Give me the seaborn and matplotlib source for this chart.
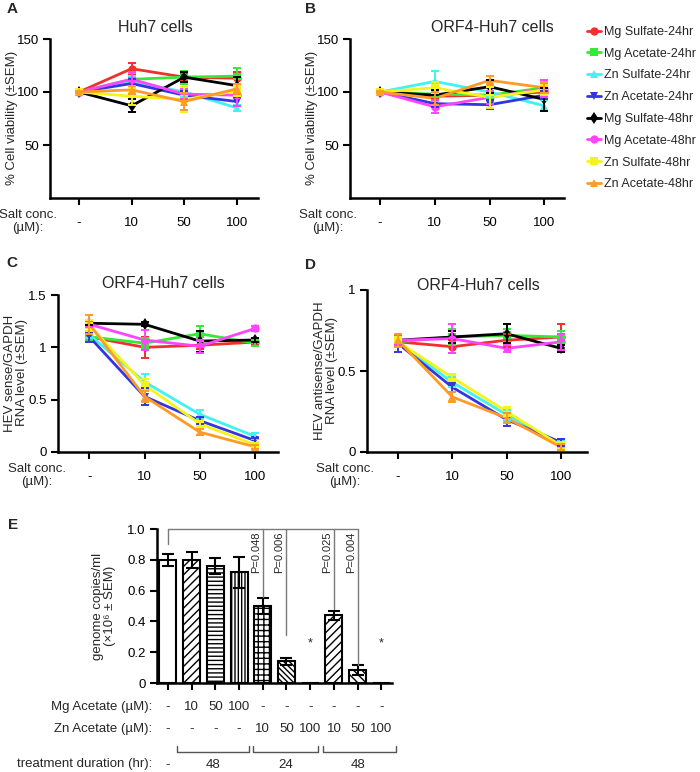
import numpy as np
import pandas as pd
import matplotlib
matplotlib.use("Agg")
import matplotlib.pyplot as plt
import seaborn as sns
from matplotlib.lines import Line2D
from matplotlib import font_manager

# ---- data ----
series = ["Mg Sulfate-24hr", "Mg Acetate-24hr", "Zn Sulfate-24hr", "Zn Acetate-24hr",
          "Mg Sulfate-48hr", "Mg Acetate-48hr", "Zn Sulfate-48hr", "Zn Acetate-48hr"]
conc_labels = ["-", "10", "50", "100"]

# panel A: Huh7 viability
a_mean = {
    "Mg Sulfate-24hr": [100, 122, 114, 113],
    "Mg Acetate-24hr": [100, 112, 114, 115],
    "Zn Sulfate-24hr": [100, 110, 100, 85],
    "Zn Acetate-24hr": [100, 108, 97, 91],
    "Mg Sulfate-48hr": [100, 87, 114, 106],
    "Mg Acetate-48hr": [100, 112, 98, 97],
    "Zn Sulfate-48hr": [100, 96, 93, 101],
    "Zn Acetate-48hr": [100, 102, 91, 103],
}
a_sem = {
    "Mg Sulfate-24hr": [1, 5, 4, 6],
    "Mg Acetate-24hr": [1, 6, 6, 8],
    "Zn Sulfate-24hr": [1, 5, 5, 3],
    "Zn Acetate-24hr": [1, 4, 4, 4],
    "Mg Sulfate-48hr": [1, 6, 5, 8],
    "Mg Acetate-48hr": [1, 7, 5, 10],
    "Zn Sulfate-48hr": [1, 8, 12, 5],
    "Zn Acetate-48hr": [1, 4, 8, 5],
}
# panel B: ORF4-Huh7 viability
b_mean = {
    "Mg Sulfate-24hr": [100, 96, 97, 100],
    "Mg Acetate-24hr": [100, 98, 97, 104],
    "Zn Sulfate-24hr": [100, 110, 100, 87],
    "Zn Acetate-24hr": [100, 89, 88, 97],
    "Mg Sulfate-48hr": [100, 97, 105, 93],
    "Mg Acetate-48hr": [100, 86, 95, 103],
    "Zn Sulfate-48hr": [100, 104, 95, 102],
    "Zn Acetate-48hr": [100, 94, 111, 104],
}
b_sem = {
    "Mg Sulfate-24hr": [1, 3, 3, 4],
    "Mg Acetate-24hr": [1, 3, 4, 4],
    "Zn Sulfate-24hr": [1, 10, 5, 5],
    "Zn Acetate-24hr": [1, 3, 4, 4],
    "Mg Sulfate-48hr": [1, 5, 6, 11],
    "Mg Acetate-48hr": [1, 6, 6, 8],
    "Zn Sulfate-48hr": [1, 5, 10, 5],
    "Zn Acetate-48hr": [1, 6, 4, 5],
}
# panel C: HEV sense RNA
c_mean = {
    "Mg Sulfate-24hr": [1.10, 1.00, 1.02, 1.05],
    "Mg Acetate-24hr": [1.10, 1.04, 1.13, 1.04],
    "Zn Sulfate-24hr": [1.12, 0.67, 0.36, 0.15],
    "Zn Acetate-24hr": [1.10, 0.53, 0.30, 0.11],
    "Mg Sulfate-48hr": [1.23, 1.22, 1.06, 1.07],
    "Mg Acetate-48hr": [1.22, 1.07, 1.01, 1.18],
    "Zn Sulfate-48hr": [1.21, 0.64, 0.27, 0.07],
    "Zn Acetate-48hr": [1.22, 0.53, 0.19, 0.05],
}
c_sem = {
    "Mg Sulfate-24hr": [0.03, 0.10, 0.04, 0.03],
    "Mg Acetate-24hr": [0.03, 0.05, 0.07, 0.03],
    "Zn Sulfate-24hr": [0.03, 0.08, 0.04, 0.03],
    "Zn Acetate-24hr": [0.05, 0.08, 0.03, 0.02],
    "Mg Sulfate-48hr": [0.02, 0.02, 0.10, 0.02],
    "Mg Acetate-48hr": [0.03, 0.10, 0.06, 0.02],
    "Zn Sulfate-48hr": [0.05, 0.06, 0.03, 0.02],
    "Zn Acetate-48hr": [0.09, 0.05, 0.03, 0.02],
}
# panel D: HEV antisense RNA
d_mean = {
    "Mg Sulfate-24hr": [0.68, 0.65, 0.69, 0.71],
    "Mg Acetate-24hr": [0.68, 0.71, 0.72, 0.71],
    "Zn Sulfate-24hr": [0.68, 0.43, 0.23, 0.05],
    "Zn Acetate-24hr": [0.67, 0.40, 0.20, 0.06],
    "Mg Sulfate-48hr": [0.69, 0.71, 0.73, 0.64],
    "Mg Acetate-48hr": [0.69, 0.70, 0.64, 0.68],
    "Zn Sulfate-48hr": [0.68, 0.46, 0.25, 0.04],
    "Zn Acetate-48hr": [0.69, 0.34, 0.21, 0.03],
}
d_sem = {
    "Mg Sulfate-24hr": [0.03, 0.04, 0.04, 0.08],
    "Mg Acetate-24hr": [0.03, 0.05, 0.04, 0.04],
    "Zn Sulfate-24hr": [0.03, 0.03, 0.03, 0.02],
    "Zn Acetate-24hr": [0.05, 0.03, 0.04, 0.02],
    "Mg Sulfate-48hr": [0.03, 0.04, 0.06, 0.02],
    "Mg Acetate-48hr": [0.03, 0.09, 0.02, 0.05],
    "Zn Sulfate-48hr": [0.03, 0.02, 0.03, 0.02],
    "Zn Acetate-48hr": [0.04, 0.03, 0.03, 0.02],
}
# panel E: genome copies
e_mean = [0.80, 0.80, 0.76, 0.72, 0.50, 0.14, 0.0, 0.44, 0.085, 0.0]
e_sem = [0.04, 0.05, 0.05, 0.10, 0.05, 0.02, 0.0, 0.03, 0.03, 0.0]
mg_row = ["-", "10", "50", "100", "-", "-", "-", "-", "-", "-"]
zn_row = ["-", "-", "-", "-", "10", "50", "100", "10", "50", "100"]
duration_labels = ["-", "48", "24", "48"]
p_labels = ["P=0.048", "P=0.006", "P=0.025", "P=0.004"]
p_bars = [4, 5, 7, 8]
p_line_ends = [0.56, 0.31, 0.48, 0.12]
star_bars = [6, 9]

# ---- style ----
colors = dict(zip(series, ["#f0302c", "#38e838", "#40f2f0", "#3535e0",
                           "#000000", "#ff44ff", "#f4f418", "#ff9a28"]))
markers = dict(zip(series, ["o", "s", "^", "v", "d", "o", "s", "^"]))
hatches = ["", "////", "----", "|||||", "+++", r"\\\\\\", "", "////", r"\\\\", ""]

sns.set_theme(style="ticks")
plt.rcParams["font.family"] = ["Liberation Sans", "DejaVu Sans"]
plt.rcParams["hatch.linewidth"] = 1.0
font_names = {f.name for f in font_manager.fontManager.ttflist}
if "Liberation Sans Narrow" in font_names:
    legend_prop = {"family": ["Liberation Sans Narrow", "DejaVu Sans"], "size": 11.5}
else:
    legend_prop = {"family": ["Liberation Sans", "DejaVu Sans"], "size": 9}

W, H = 700, 772
fig = plt.figure(figsize=(W / 100, H / 100), dpi=100)


def rect(l, t, r, b):
    return [l / W, 1 - b / H, (r - l) / W, (b - t) / H]


def ftext(x, y, s, **kw):
    kw.setdefault("fontsize", 9.5)
    kw.setdefault("ha", "center")
    kw.setdefault("va", "center")
    fig.text(x / W, 1 - y / H, s, **kw)


def style_axis(ax):
    sns.despine(ax=ax)
    for sp in ["left", "bottom"]:
        ax.spines[sp].set_linewidth(1.8)
        ax.spines[sp].set_color("black")
    ax.tick_params(direction="out", length=5, width=1.5, colors="black",
                   labelsize=9.5, pad=3)
    ax.set_xlabel("")
    ax.set_ylabel("")


def line_panel(box, means, sems, ylim, yticks, yticklabels, xlim):
    ax = fig.add_axes(rect(*box))
    rows = []
    for s in series:
        for xi, v in enumerate(means[s]):
            rows.append((xi, v, s))
    df = pd.DataFrame(rows, columns=["x", "value", "series"])
    sns.lineplot(data=df, x="x", y="value", hue="series", style="series",
                 hue_order=series, style_order=series, palette=colors,
                 markers=markers, dashes=False, lw=2, markersize=6,
                 markeredgewidth=0, legend=False, errorbar=None, ax=ax)
    for s in series:
        ax.errorbar(range(4), means[s], yerr=sems[s], fmt="none",
                    ecolor=colors[s], elinewidth=1.4, capsize=3, capthick=1.4)
    ax.set_xlim(*xlim)
    ax.set_ylim(*ylim)
    ax.set_yticks(yticks)
    ax.set_yticklabels(yticklabels)
    ax.set_xticks(range(4))
    ax.set_xticklabels(conc_labels)
    style_axis(ax)
    ax.tick_params(axis="x", pad=9)
    return ax


# panel A
line_panel((50, 39, 258, 198), a_mean, a_sem, (0, 150), [50, 100, 150],
           ["50", "100", "150"], (-0.55, 3.4))
# panel B
line_panel((350, 39, 564, 198), b_mean, b_sem, (0, 150), [50, 100, 150],
           ["50", "100", "150"], (-0.55, 3.36))
# panel C
line_panel((58, 295, 278, 452), c_mean, c_sem, (0, 1.5), [0, 0.5, 1, 1.5],
           ["0", "0.5", "1", "1.5"], (-0.57, 3.42))
# panel D
line_panel((367, 290, 587, 452), d_mean, d_sem, (0, 1), [0, 0.5, 1],
           ["0", "0.5", "1"], (-0.57, 3.48))

# legend
handles = [Line2D([], [], color=colors[s], marker=markers[s], lw=2, ms=6, mew=0)
           for s in series]
fig.legend(handles, series, loc="upper left", bbox_to_anchor=(587 / W, 1 - 26 / H),
           frameon=False, handlelength=1.1, handletextpad=0.3, labelspacing=0.78,
           borderpad=0, borderaxespad=0, prop=legend_prop)

# labels for line panels
ftext(12, 9, "A", fontsize=11, fontweight="bold")
ftext(310, 9, "B", fontsize=11, fontweight="bold")
ftext(12, 263, "C", fontsize=11, fontweight="bold")
ftext(310, 265, "D", fontsize=11, fontweight="bold")
ftext(155, 28, "Huh7 cells", fontsize=11.5)
ftext(492, 28, "ORF4-Huh7 cells", fontsize=11.5)
ftext(163, 283, "ORF4-Huh7 cells", fontsize=11.5)
ftext(478, 285, "ORF4-Huh7 cells", fontsize=11.5)
ftext(12, 118, "% Cell viability (±SEM)", rotation=90)
ftext(312, 118, "% Cell viability (±SEM)", rotation=90)
ftext(16, 373, "HEV sense/GAPDH\nRNA level (±SEM)", rotation=90, linespacing=1.1)
ftext(326, 371, "HEV antisense/GAPDH\nRNA level (±SEM)", rotation=90, linespacing=1.1)
for cx, axis_y in [(28, 198), (328, 198), (37, 452), (345, 452)]:
    ftext(cx, axis_y + 17, "Salt conc.")
    ftext(cx, axis_y + 30, "(µM):")

# panel E
ax = fig.add_axes(rect(157, 529, 392, 683))
dfe = pd.DataFrame({"cond": range(10), "mean": e_mean})
sns.barplot(data=dfe, x="cond", y="mean", color="white", edgecolor="black",
            linewidth=1.5, width=0.72, errorbar=None, saturation=1, ax=ax)
for p, h in zip(ax.patches, hatches):
    p.set_hatch(h)
    p.set_facecolor("white")
keep = [i for i in range(10) if e_sem[i] > 0]
ax.errorbar(keep, [e_mean[i] for i in keep], yerr=[e_sem[i] for i in keep],
            fmt="none", ecolor="black", elinewidth=1.5, capsize=4, capthick=1.5)
ax.set_xlim(-0.46, 9.45)
ax.set_ylim(0, 1.0)
ax.set_yticks([0, 0.2, 0.4, 0.6, 0.8, 1.0])
ax.set_yticklabels(["0", "0.2", "0.4", "0.6", "0.8", "1.0"])
ax.set_xticks(range(10))
ax.set_xticklabels([""] * 10)
style_axis(ax)

# significance lines
gray = "#7a7a7a"
ax.plot([0, p_bars[-1]], [1.0, 1.0], color=gray, lw=1, clip_on=False)
ax.plot([0, 0], [1.0, 0.9], color=gray, lw=1, clip_on=False)
for b, end, lab in zip(p_bars, p_line_ends, p_labels):
    ax.plot([b, b], [1.0, end], color=gray, lw=1, clip_on=False)
    ax.text(b - 0.08, 0.985, lab, rotation=90, ha="right", va="top", fontsize=8)
for b in star_bars:
    ax.text(b, 0.26, "*", ha="center", va="center", fontsize=9)

tx = ax.get_xaxis_transform()
for i in range(10):
    ax.text(i, -0.155, mg_row[i], transform=tx, ha="center", va="center", fontsize=9.5)
    ax.text(i, -0.30, zn_row[i], transform=tx, ha="center", va="center", fontsize=9.5)
for lo, hi in [(0.4, 3.4), (3.6, 6.35), (6.55, 9.6)]:
    ax.plot([lo, lo, hi, hi], [-0.41, -0.45, -0.45, -0.41], transform=tx,
            color="#555555", lw=1, clip_on=False)
for xpos, lab in zip([0, 1.9, 4.95, 8.0], duration_labels):
    ax.text(xpos, -0.53, lab, transform=tx, ha="center", va="center", fontsize=9.5)

ftext(152, 707, "Mg Acetate (µM):", ha="right")
ftext(152, 729, "Zn Acetate (µM):", ha="right")
ftext(152, 764, "treatment duration (hr):", ha="right")
ftext(13, 525, "E", fontsize=11, fontweight="bold")
ftext(104, 606, "genome copies/ml\n(×10⁶ ± SEM)", rotation=90, linespacing=1.1)

fig.savefig("out.png", dpi=100)
